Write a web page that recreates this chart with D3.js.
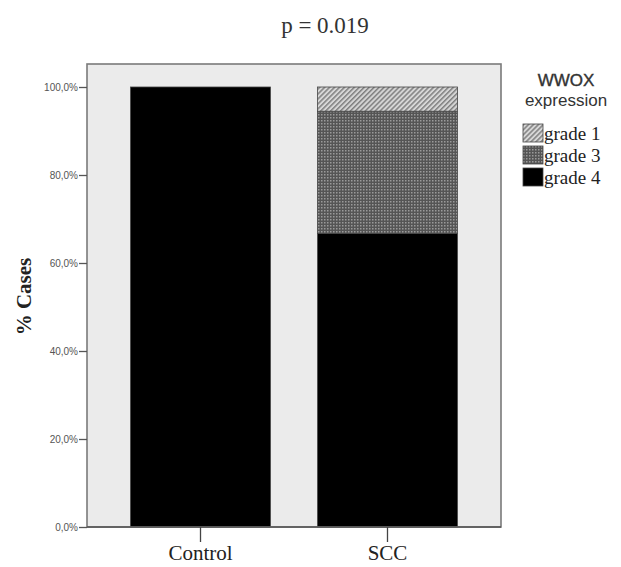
<!DOCTYPE html>
<html>
<head>
<meta charset="utf-8">
<script src="https://cdn.jsdelivr.net/npm/d3@7"></script>
<style>
  body { margin: 0; background: #fff; }
  svg { display: block; }
</style>
</head>
<body>
<svg id="chart" width="621" height="567"></svg>
<script>
// data
const groups = ['Control', 'SCC'];
const grades = ['grade 4', 'grade 3', 'grade 1']; // stacking order, bottom to top
const legendOrder = ['grade 1', 'grade 3', 'grade 4'];
const pctGrade4 = [100, 66.7];
const pctGrade3 = [0, 27.8];
const pctGrade1 = [0, 5.5];
const yTicks = [0, 20, 40, 60, 80, 100];

const rows = groups.map((g, i) => ({
  group: g,
  'grade 4': pctGrade4[i],
  'grade 3': pctGrade3[i],
  'grade 1': pctGrade1[i]
}));

const SERIF = "'Liberation Serif', 'Times New Roman', serif";
const SANS = "'Liberation Sans', Arial, sans-serif";

const svg = d3.select('#chart');
const plot = { left: 87, right: 501, top: 64, bottom: 527 };

// patterns
const defs = svg.append('defs');
const hatch = defs.append('pattern')
  .attr('id', 'hatch').attr('patternUnits', 'userSpaceOnUse')
  .attr('width', 3.5).attr('height', 3.5)
  .attr('patternTransform', 'rotate(45)');
hatch.append('rect').attr('width', 3.5).attr('height', 3.5).attr('fill', '#d6d6d6');
hatch.append('rect').attr('width', 1.5).attr('height', 3.5).attr('fill', '#808080');

const dots = defs.append('pattern')
  .attr('id', 'dots').attr('patternUnits', 'userSpaceOnUse')
  .attr('width', 3).attr('height', 3);
dots.append('rect').attr('width', 3).attr('height', 3).attr('fill', '#555');
dots.append('rect').attr('width', 1.5).attr('height', 1.5).attr('fill', '#9a9a9a');

const fills = { 'grade 1': 'url(#hatch)', 'grade 3': 'url(#dots)', 'grade 4': '#000' };

// background of plot area
svg.append('rect')
  .attr('x', plot.left).attr('y', plot.top)
  .attr('width', plot.right - plot.left).attr('height', plot.bottom - plot.top)
  .attr('fill', '#ebebeb');

const x = d3.scaleBand()
  .domain(groups)
  .range([plot.left, plot.right])
  .paddingInner(0.252)
  .paddingOuter(0.233);

const y = d3.scaleLinear()
  .domain([0, 100])
  .range([plot.bottom, 87]);

const stack = d3.stack().keys(grades)(rows);

svg.append('g')
  .selectAll('g')
  .data(stack)
  .join('g')
  .attr('fill', d => fills[d.key])
  .selectAll('rect')
  .data(d => d.filter(s => s[1] - s[0] > 0))
  .join('rect')
  .attr('x', d => x(d.data.group))
  .attr('width', x.bandwidth())
  .attr('y', d => y(d[1]))
  .attr('height', d => y(d[0]) - y(d[1]))
  .attr('stroke', '#444')
  .attr('stroke-width', 0.8);

// frame
svg.append('rect')
  .attr('x', plot.left).attr('y', plot.top)
  .attr('width', plot.right - plot.left).attr('height', plot.bottom - plot.top)
  .attr('fill', 'none').attr('stroke', '#7a7a7a').attr('stroke-width', 1.6);
svg.append('line')
  .attr('x1', plot.left).attr('x2', plot.right)
  .attr('y1', plot.bottom).attr('y2', plot.bottom)
  .attr('stroke', '#555').attr('stroke-width', 1.6);

// y axis
const yAxis = svg.append('g')
  .attr('transform', `translate(${plot.left},0)`)
  .call(d3.axisLeft(y).tickValues(yTicks).tickSize(8).tickPadding(1)
    .tickFormat(d => d.toFixed(1).replace('.', ',') + '%'));
yAxis.select('.domain').remove();
yAxis.selectAll('line').attr('stroke', '#555').attr('stroke-width', 1.3);
yAxis.selectAll('text')
  .style('font-family', SANS)
  .style('font-size', '10px').attr('fill', '#555');

// x axis
const xAxis = svg.append('g')
  .attr('transform', `translate(0,${plot.bottom})`)
  .call(d3.axisBottom(x).tickSize(15).tickPadding(3));
xAxis.select('.domain').remove();
xAxis.selectAll('line').attr('stroke', '#444').attr('stroke-width', 1.3);
xAxis.selectAll('text')
  .style('font-family', SERIF)
  .style('font-size', '21px').attr('fill', '#222');

// y label
svg.append('text')
  .attr('transform', `translate(31,${(plot.top + plot.bottom) / 2 + 1}) rotate(-90)`)
  .attr('text-anchor', 'middle')
  .style('font-family', SERIF)
  .style('font-weight', 'bold')
  .style('font-size', '21px')
  .attr('fill', '#222')
  .text('% Cases');

// title
svg.append('text')
  .attr('x', 325).attr('y', 33)
  .attr('text-anchor', 'middle')
  .style('font-family', SERIF)
  .style('font-size', '23px')
  .attr('fill', '#333')
  .text('p = 0.019');

// legend
const legend = svg.append('g');
legend.append('text')
  .attr('x', 566).attr('y', 86)
  .attr('text-anchor', 'middle')
  .style('font-family', SANS)
  .style('font-size', '17px').attr('fill', '#333')
  .attr('stroke', '#333').attr('stroke-width', 0.4)
  .text('WWOX');
legend.append('text')
  .attr('x', 566).attr('y', 106)
  .attr('text-anchor', 'middle')
  .style('font-family', SANS)
  .style('font-size', '17px').attr('fill', '#333')
  .text('expression');

const item = legend.selectAll('g.item')
  .data(legendOrder)
  .join('g')
  .attr('class', 'item')
  .attr('transform', (d, i) => `translate(523,${124 + i * 22})`);
item.append('rect')
  .attr('width', 20).attr('height', 18)
  .attr('fill', d => fills[d])
  .attr('stroke', '#444').attr('stroke-width', 0.8);
item.append('text')
  .attr('x', 21).attr('y', 16)
  .style('font-family', SERIF)
  .style('font-size', '19px').attr('fill', '#222')
  .text(d => d);
</script>
</body>
</html>
